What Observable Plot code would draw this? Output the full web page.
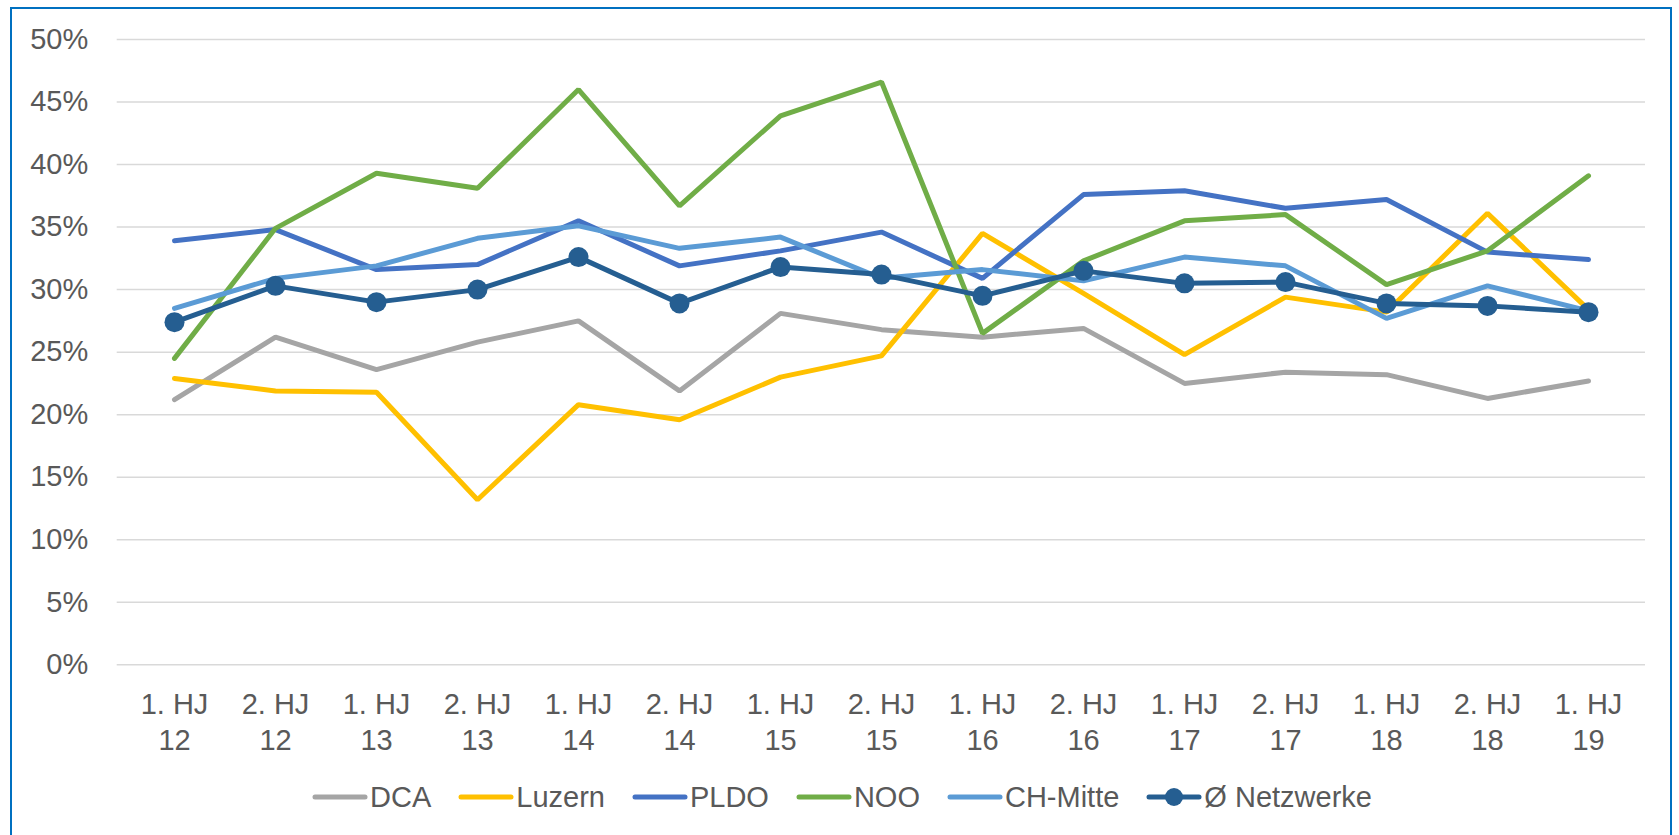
<!DOCTYPE html>
<html>
<head>
<meta charset="utf-8">
<script src="https://cdn.jsdelivr.net/npm/d3@7"></script>
<script src="https://cdn.jsdelivr.net/npm/@observablehq/plot@0.6"></script>
<style>
  html, body { margin: 0; padding: 0; background: #fff; overflow: hidden; width: 1679px; height: 835px; }
  #frame { position: absolute; left: 10px; top: 6.5px; width: 1662px; height: 900px; border: 2px solid #0070C0; box-sizing: border-box; pointer-events: none; }
  #chart { position: absolute; left: 0; top: 0; }
  #legend { position: absolute; left: 11px; width: 1662px; top: 777px; height: 40px; display: flex; justify-content: center; align-items: center; gap: 27px;
            font-family: "Liberation Sans", Arial, sans-serif; font-size: 29px; color: #595959; }
  .item { display: flex; align-items: center; gap: 2px; }
  .item svg { display: block; }
</style>
</head>
<body>
<div id="chart"></div>
<div id="legend"></div>
<div id="frame"></div>
<script>
const categories = ["1. HJ\n12","2. HJ\n12","1. HJ\n13","2. HJ\n13","1. HJ\n14","2. HJ\n14","1. HJ\n15","2. HJ\n15","1. HJ\n16","2. HJ\n16","1. HJ\n17","2. HJ\n17","1. HJ\n18","2. HJ\n18","1. HJ\n19"];
const seriesNames = ["DCA", "Luzern", "PLDO", "NOO", "CH-Mitte", "Ø Netzwerke"];
const seriesColors = ["#A5A5A5", "#FFC000", "#4472C4", "#70AD47", "#5B9BD5", "#255E91"];
const DCA      = [21.2, 26.2, 23.6, 25.8, 27.5, 21.9, 28.1, 26.8, 26.2, 26.9, 22.5, 23.4, 23.2, 21.3, 22.7];
const Luzern   = [22.9, 21.9, 21.8, 13.2, 20.8, 19.6, 23.0, 24.7, 34.5, 29.7, 24.8, 29.4, 28.2, 36.1, 28.4];
const PLDO     = [33.9, 34.8, 31.6, 32.0, 35.5, 31.9, 33.1, 34.6, 30.9, 37.6, 37.9, 36.5, 37.2, 33.0, 32.4];
const NOO      = [24.5, 34.9, 39.3, 38.1, 46.0, 36.7, 43.9, 46.6, 26.5, 32.3, 35.5, 36.0, 30.4, 33.1, 39.1];
const CHMitte  = [28.5, 30.9, 31.9, 34.1, 35.1, 33.3, 34.2, 30.9, 31.6, 30.7, 32.6, 31.9, 27.7, 30.3, 28.3];
const Netzwerke= [27.4, 30.3, 29.0, 30.0, 32.6, 28.9, 31.8, 31.2, 29.5, 31.5, 30.5, 30.6, 28.9, 28.7, 28.2];
const yTicks = [0, 5, 10, 15, 20, 25, 30, 35, 40, 45, 50];

const seriesValues = [DCA, Luzern, PLDO, NOO, CHMitte, Netzwerke];
const data = [];
seriesNames.forEach((s, k) => seriesValues[k].forEach((v, i) => data.push({series: s, cat: categories[i], value: v})));
const avg = data.filter(d => d.series === "Ø Netzwerke");

const chart = Plot.plot({
  width: 1679,
  height: 770,
  marginTop: 39,
  marginBottom: 105.7,
  marginLeft: 116.7,
  marginRight: 34,
  style: {fontFamily: "'Liberation Sans', Arial, sans-serif", fontSize: "29px", color: "#595959", background: "transparent", overflow: "visible"},
  x: {type: "point", domain: categories, padding: 0.5},
  y: {domain: [0, 50]},
  color: {domain: seriesNames, range: seriesColors},
  marks: [
    Plot.ruleY(yTicks, {stroke: "#D9D9D9", strokeWidth: 1.5}),
    Plot.axisY({ticks: yTicks, tickSize: 0, tickPadding: 29, tickFormat: d => d + "%", label: null, fill: "#595959"}),
    Plot.axisX({tickSize: 0, tickPadding: 24, label: null, lineHeight: 1.23, fill: "#595959"}),
    Plot.line(data, {x: "cat", y: "value", z: "series", stroke: "series", strokeWidth: 5, strokeLinejoin: "miter", strokeLinecap: "round"}),
    Plot.dot(avg, {x: "cat", y: "value", r: 10, fill: "#255E91", stroke: "none"})
  ]
});
document.getElementById("chart").appendChild(chart);

const legend = document.getElementById("legend");
seriesNames.forEach((s, k) => {
  const item = document.createElement("div");
  item.className = "item";
  const marker = k === seriesNames.length - 1 ? `<circle cx="28" cy="10" r="9" fill="${seriesColors[k]}"/>` : "";
  item.innerHTML = `<svg width="56" height="20"><line x1="3" y1="10" x2="53" y2="10" stroke="${seriesColors[k]}" stroke-width="5" stroke-linecap="round"/>${marker}</svg><span>${s}</span>`;
  legend.appendChild(item);
});
</script>
</body>
</html>
